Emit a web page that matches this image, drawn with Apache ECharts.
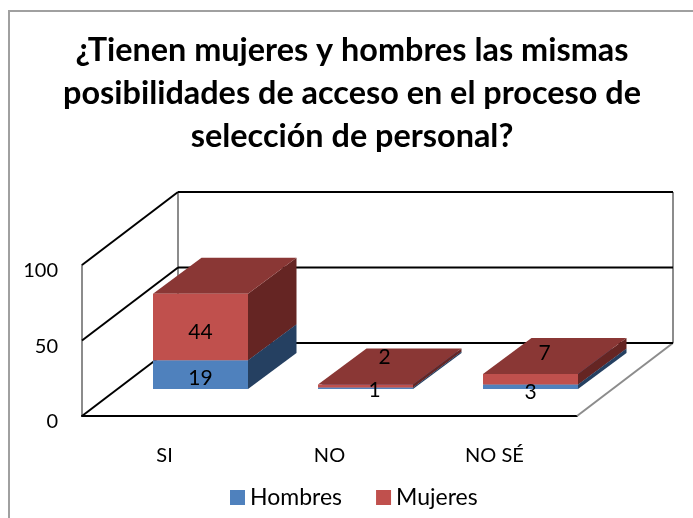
<!DOCTYPE html>
<html>
<head>
<meta charset="utf-8">
<title>Acceso</title>
<script src="https://cdn.jsdelivr.net/npm/echarts@6/dist/echarts.min.js"></script>
<style>
    html, body { margin: 0; padding: 0; background: #fff; }
    #chart { width: 693px; height: 518px; }
</style>
</head>
<body>
<div id="chart"></div>
<script>
var categories = ['SI', 'NO', 'NO SÉ'];
var hombres = [19, 1, 3];
var mujeres = [44, 2, 7];
var yTicks = [0, 50, 100];

// fake 3d: how far back the walls go and where the boxes sit on the floor (px)
var wallDx = 96, wallDy = 73;
var barDx = 36, barDy = 27;
var boxDx = 48.5, boxDy = 36;
var barRatio = 95 / 165;

var fontName = 'Lato';

// the original nudges its data labels by hand, per series and per category (px)
var labelShift = [
    [[0, 4], [9, 2], [0, 5]],
    [[0, 5], [19, -29], [14, -26]]
];

function poly(points, color) {
    return { type: 'polygon', shape: { points: points }, style: { fill: color }, silent: true };
}

function wallLine(x1, y1, x2, y2, color) {
    return { type: 'line', shape: { x1: x1, y1: y1, x2: x2, y2: y2 }, style: { stroke: color, lineWidth: 2 }, silent: true };
}

function renderWalls(params, api) {
    var p = api.coord([0, api.value(0)]);
    var size = api.size([1, 0]);
    var x0 = p[0] - size[0] / 2;
    var x1 = x0 + size[0] * categories.length;
    var y = p[1];
    var children = [
        wallLine(x0, y, x0 + wallDx, y - wallDy, '#000'),
        wallLine(x0 + wallDx, y - wallDy, x1 + wallDx, y - wallDy, '#000')
    ];
    if (params.dataIndex === 0) {
        var top = api.coord([0, yTicks[yTicks.length - 1]])[1] - wallDy;
        children.unshift(wallLine(x0 + wallDx, y - wallDy, x0 + wallDx, top, '#8c8c8c'));
        children.unshift(wallLine(x1 + wallDx, y - wallDy, x1 + wallDx, top, '#8c8c8c'));
        children.unshift(wallLine(x1, y, x1 + wallDx, y - wallDy, '#8c8c8c'));
    }
    return { type: 'group', children: children };
}

function boxRenderer(colors) {
    return function (params, api) {
        var idx = api.value(0);
        var low = api.coord([idx, api.value(1)]);
        var high = api.coord([idx, api.value(2)]);
        var w = api.size([1, 0])[0] * barRatio;
        var l = low[0] - w / 2 + barDx;
        var r = l + w;
        var b = low[1] - barDy;
        var t = high[1] - barDy;
        return {
            type: 'group',
            children: [
                poly([[r, b], [r + boxDx, b - boxDy], [r + boxDx, t - boxDy], [r, t]], colors.side),
                poly([[l, t], [r, t], [r + boxDx, t - boxDy], [l + boxDx, t - boxDy]], colors.top),
                poly([[l, b], [r, b], [r, t], [l, t]], colors.front)
            ]
        };
    };
}

// labels go in their own series so the Mujeres boxes cannot cover the Hombres numbers
function renderLabel(params, api) {
    var idx = api.value(0);
    var low = api.coord([idx, api.value(1)]);
    var high = api.coord([idx, api.value(2)]);
    var shift = labelShift[api.value(4)][idx];
    return {
        type: 'text',
        silent: true,
        style: {
            x: low[0] + barDx + shift[0],
            y: (low[1] + high[1]) / 2 - barDy + shift[1],
            text: String(api.value(3)),
            fill: '#000',
            font: '21px ' + fontName,
            align: 'center',
            verticalAlign: 'middle'
        }
    };
}

function stackData(values, base) {
    return values.map(function (v, i) {
        var from = base ? base[i] : 0;
        return [i, from, from + v, v];
    });
}

var hombresStack = stackData(hombres);
var mujeresStack = stackData(mujeres, hombres);
var labelData = hombresStack.map(function (d) { return d.concat(0); })
    .concat(mujeresStack.map(function (d) { return d.concat(1); }));

var myChart = echarts.init(document.getElementById('chart'), null, { renderer: 'canvas' });
myChart.setOption({
    animation: false,
    backgroundColor: '#fff',
    title: {
        text: '¿Tienen mujeres y hombres las mismas\nposibilidades de acceso en el proceso de\nselección de personal?',
        left: 347,
        top: 24,
        textAlign: 'center',
        textStyle: { fontFamily: fontName, fontSize: 32.4, fontWeight: 'bold', color: '#000', lineHeight: 43 }
    },
    legend: {
        data: ['Hombres', 'Mujeres'],
        left: 225,
        top: 481,
        icon: 'rect',
        itemWidth: 15,
        itemHeight: 15,
        itemGap: 34,
        selectedMode: false,
        textStyle: { fontFamily: fontName, fontSize: 23, color: '#000' }
    },
    grid: { left: 82, right: 116, top: 265, bottom: 102 },
    xAxis: {
        type: 'category',
        data: categories,
        axisLine: { lineStyle: { color: '#000', width: 2 } },
        axisTick: { show: false },
        axisLabel: { fontFamily: fontName, fontSize: 20, color: '#000', margin: 30 }
    },
    yAxis: {
        type: 'value',
        min: 0,
        max: 100,
        interval: 50,
        axisLine: { show: true, lineStyle: { color: '#8c8c8c', width: 2 } },
        axisTick: { show: false },
        splitLine: { show: false },
        axisLabel: { fontFamily: fontName, fontSize: 20, color: '#000', margin: 24, verticalAlign: 'top', lineHeight: 12 }
    },
    graphic: [{
        type: 'rect',
        silent: true,
        z: -1,
        shape: { x: 9, y: 11, width: 690, height: 520 },
        style: { fill: 'none', stroke: '#a0a0a0', lineWidth: 2 }
    }],
    series: [
        {
            type: 'custom',
            name: 'walls',
            coordinateSystem: 'cartesian2d',
            renderItem: renderWalls,
            data: yTicks.map(function (t) { return [t]; }),
            encode: { y: 0 },
            clip: false,
            silent: true,
            z: 1
        },
        {
            type: 'custom',
            name: 'Hombres',
            coordinateSystem: 'cartesian2d',
            renderItem: boxRenderer({ front: '#4f81bd', side: '#254061', top: '#376092' }),
            data: hombresStack,
            encode: { x: 0, y: [1, 2] },
            itemStyle: { color: '#4f81bd' },
            clip: false,
            silent: true,
            z: 2
        },
        {
            type: 'custom',
            name: 'Mujeres',
            coordinateSystem: 'cartesian2d',
            renderItem: boxRenderer({ front: '#c0504d', side: '#652523', top: '#8a3735' }),
            data: mujeresStack,
            encode: { x: 0, y: [1, 2] },
            itemStyle: { color: '#c0504d' },
            clip: false,
            silent: true,
            z: 3
        },
        {
            type: 'custom',
            name: 'labels',
            coordinateSystem: 'cartesian2d',
            renderItem: renderLabel,
            data: labelData,
            encode: { x: 0, y: [1, 2] },
            clip: false,
            silent: true,
            z: 4
        }
    ]
});
</script>
</body>
</html>
